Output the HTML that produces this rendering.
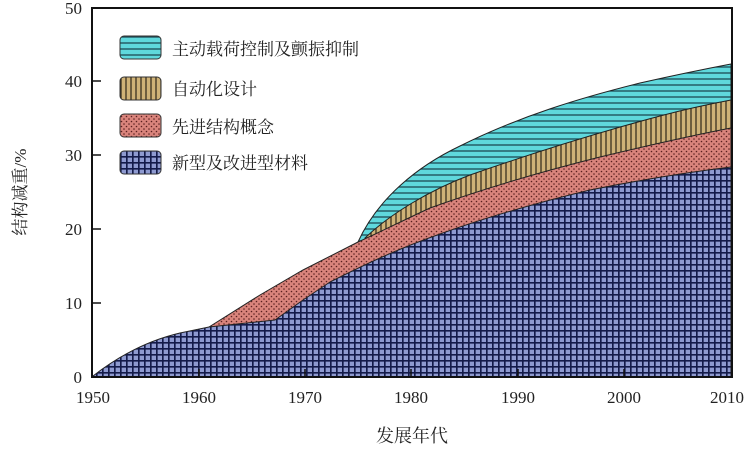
<!DOCTYPE html>
<html><head><meta charset="utf-8"><style>
html,body{margin:0;padding:0;background:#fff;}
svg{display:block;}
text{font-family:"Liberation Serif","Noto Serif CJK SC",serif;fill:#222;}
</style></head><body>
<svg width="752" height="451" viewBox="0 0 752 451" xmlns="http://www.w3.org/2000/svg">
<defs>
<pattern id="pb" width="6" height="6" patternUnits="userSpaceOnUse">
<rect width="6" height="6" fill="#8e9ad0"/>
<path d="M0 0.75H6M0.75 0V6" stroke="#141b4a" stroke-width="1.8"/>
</pattern>
<pattern id="pr" width="5" height="5" patternUnits="userSpaceOnUse">
<rect width="5" height="5" fill="#d9847c"/>
<circle cx="1.5" cy="1.5" r="0.8" fill="#5a1f1f"/>
<circle cx="4" cy="4" r="0.8" fill="#5a1f1f"/>
</pattern>
<pattern id="pt" width="5" height="5" patternUnits="userSpaceOnUse">
<rect width="5" height="5" fill="#cfb277"/>
<path d="M1 0V5" stroke="#3a3020" stroke-width="1.3"/>
</pattern>
<pattern id="pc" width="6" height="6" patternUnits="userSpaceOnUse">
<rect width="6" height="6" fill="#5fd8dc"/>
<path d="M0 1H6" stroke="#1d4b55" stroke-width="1.3"/>
</pattern>
</defs>
<!-- cyan -->
<path d="M358 242 C378 198,418 166,460 146 C520 116,580 98,640 83 C680 74,710 68,731 64 L731 377 L358 377 Z" fill="url(#pc)" stroke="#222" stroke-width="1"/>
<!-- tan -->
<path d="M365 238 C390 214,430 190,470 175 C530 154,600 132,660 116 C690 108,715 103,731 100 L731 377 L365 377 Z" fill="url(#pt)" stroke="#222" stroke-width="1"/>
<!-- red -->
<path d="M209 327 L260 295 L303 270 L358 242 C380 232,400 222,430 208 C480 190,540 172,600 157 C650 145,700 134,731 128 L731 377 L209 377 Z" fill="url(#pr)" stroke="#222" stroke-width="1"/>
<!-- blue -->
<path d="M93 377 L93 376 C120 355,150 340,180 333 L209 327 L275 320 L303 300 L330 282 C370 262,400 248,440 234 C490 216,540 202,590 190 C640 180,690 172,731 167 L731 377 Z" fill="url(#pb)" stroke="#222" stroke-width="1"/>
<!-- axes frame -->
<path d="M92 8 H732 V377 H92 Z" fill="none" stroke="#111" stroke-width="2"/>
<g stroke="#111" stroke-width="1.5">
<line x1="92" y1="303" x2="101" y2="303"/><line x1="92" y1="229" x2="101" y2="229"/>
<line x1="92" y1="155" x2="101" y2="155"/><line x1="92" y1="81" x2="101" y2="81"/>
<line x1="199" y1="377" x2="199" y2="369"/><line x1="305" y1="377" x2="305" y2="369"/>
<line x1="411" y1="377" x2="411" y2="369"/><line x1="518" y1="377" x2="518" y2="369"/>
<line x1="624" y1="377" x2="624" y2="369"/>
</g>
<g font-size="17" text-anchor="end">
<text x="82" y="383">0</text><text x="82" y="309">10</text><text x="82" y="235">20</text>
<text x="82" y="161">30</text><text x="82" y="87">40</text><text x="82" y="14">50</text>
</g>
<g font-size="17" text-anchor="middle">
<text x="93" y="403">1950</text><text x="199" y="403">1960</text><text x="305" y="403">1970</text>
<text x="411" y="403">1980</text><text x="518" y="403">1990</text><text x="624" y="403">2000</text>
<text x="727" y="403">2010</text>
</g>
<text x="412" y="442" font-size="18" text-anchor="middle">发展年代</text>
<text transform="translate(26,192) rotate(-90)" font-size="17" text-anchor="middle">结构减重/%</text>
<!-- legend -->
<g stroke="#333" stroke-width="1">
<rect x="120" y="36" width="41" height="23" rx="4" fill="url(#pc)"/>
<rect x="120" y="77" width="41" height="23" rx="4" fill="url(#pt)"/>
<rect x="120" y="114" width="41" height="23" rx="4" fill="url(#pr)"/>
<rect x="120" y="151" width="41" height="23" rx="4" fill="url(#pb)"/>
</g>
<g font-size="17">
<text x="172" y="55">主动载荷控制及颤振抑制</text>
<text x="172" y="95">自动化设计</text>
<text x="172" y="133">先进结构概念</text>
<text x="172" y="169">新型及改进型材料</text>
</g>
</svg>
</body></html>
